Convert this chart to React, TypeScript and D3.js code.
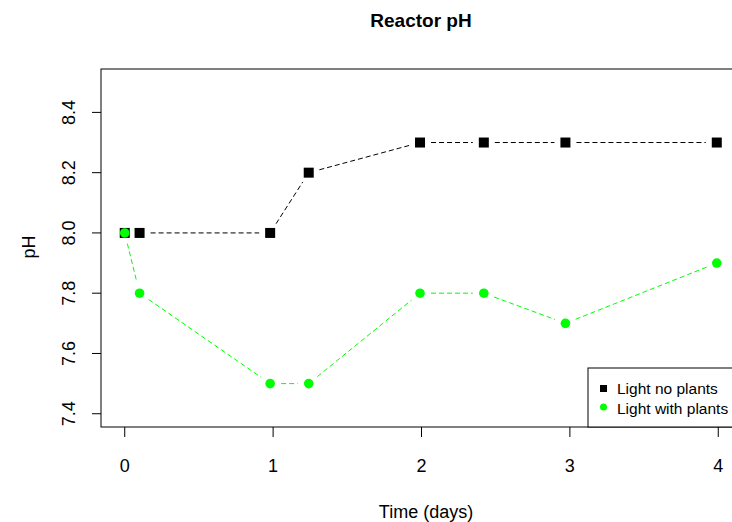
import React from "react";
import * as d3 from "d3";

const times = [0, 0.1, 0.98, 1.24, 1.99, 2.42, 2.97, 3.99];
const noPlants = [8.0, 8.0, 8.0, 8.2, 8.3, 8.3, 8.3, 8.3];
const withPlants = [8.0, 7.8, 7.5, 7.5, 7.8, 7.8, 7.7, 7.9];
const xTicks = [0, 1, 2, 3, 4];
const yTicks = [7.4, 7.6, 7.8, 8.0, 8.2, 8.4];
const yTickLabels = ["7.4", "7.6", "7.8", "8.0", "8.2", "8.4"];
const legendLabels = ["Light no plants", "Light with plants"];

const W = 732;
const H = 522;
const FONT = "'Liberation Sans', Arial, sans-serif";

export default function App() {
  const x = d3.scaleLinear().domain([-0.16, 4.16]).range([101, 742]);
  const y = d3.scaleLinear().domain([7.356, 8.544]).range([427, 69]);
  const GAP = 11;

  const segments = (vals: number[]) => {
    const out: { x1: number; y1: number; x2: number; y2: number }[] = [];
    for (let i = 0; i < vals.length - 1; i++) {
      const ax = x(times[i]), ay = y(vals[i]);
      const bx = x(times[i + 1]), by = y(vals[i + 1]);
      const len = Math.hypot(bx - ax, by - ay);
      if (len <= 2 * GAP) continue;
      const ux = (bx - ax) / len, uy = (by - ay) / len;
      out.push({ x1: ax + ux * GAP, y1: ay + uy * GAP, x2: bx - ux * GAP, y2: by - uy * GAP });
    }
    return out;
  };

  const blackSegs = segments(noPlants);
  const greenSegs = segments(withPlants);

  return (
    <svg width={W} height={H} style={{ position: "absolute", left: 0, top: 0, background: "#fff" }} fontFamily={FONT}>
      <rect x={0} y={0} width={W} height={H} fill="#fff" />
      <text x={421} y={27} textAnchor="middle" fontWeight="bold" fontSize={19}>Reactor pH</text>
      {/* plot box */}
      <rect x={101} y={69} width={641} height={358} fill="none" stroke="#000" strokeWidth={1} />
      {/* y axis */}
      {yTicks.map((t, i) => (
        <g key={"yt" + i}>
          <line x1={92} x2={101} y1={y(t)} y2={y(t)} stroke="#000" />
          <text transform={`translate(75,${y(t)}) rotate(-90)`} textAnchor="middle" fontSize={18} fill="#000">{yTickLabels[i]}</text>
        </g>
      ))}
      <text transform={`translate(35,247) rotate(-90)`} textAnchor="middle" fontSize={18}>pH</text>
      {/* x axis */}
      {xTicks.map((t) => (
        <g key={"xt" + t}>
          <line x1={x(t)} x2={x(t)} y1={427} y2={437} stroke="#000" />
          <text x={x(t)} y={472} textAnchor="middle" fontSize={18}>{t}</text>
        </g>
      ))}
      <text x={426} y={518} textAnchor="middle" fontSize={18}>Time (days)</text>
      {/* lines */}
      {blackSegs.map((s, i) => (
        <line key={"bs" + i} {...s} stroke="#000" strokeDasharray="5,3" strokeWidth={1} />
      ))}
      {greenSegs.map((s, i) => (
        <line key={"gs" + i} {...s} stroke="#00ff00" strokeDasharray="5,3" strokeWidth={1} />
      ))}
      {/* points */}
      {times.map((t, i) => (
        <rect key={"bp" + i} x={x(t) - 5} y={y(noPlants[i]) - 5} width={10} height={10} fill="#000" />
      ))}
      {times.map((t, i) => (
        <circle key={"gp" + i} cx={x(t)} cy={y(withPlants[i])} r={4.8} fill="#00ff00" />
      ))}
      {/* legend */}
      <rect x={588} y={368} width={200} height={59} fill="#fff" stroke="#000" />
      <rect x={600} y={385} width={7} height={7} fill="#000" />
      <circle cx={603.5} cy={407} r={3.5} fill="#00ff00" />
      <text x={617} y={394} fontSize={15.5}>{legendLabels[0]}</text>
      <text x={617} y={414} fontSize={15.5}>{legendLabels[1]}</text>
    </svg>
  );
}
